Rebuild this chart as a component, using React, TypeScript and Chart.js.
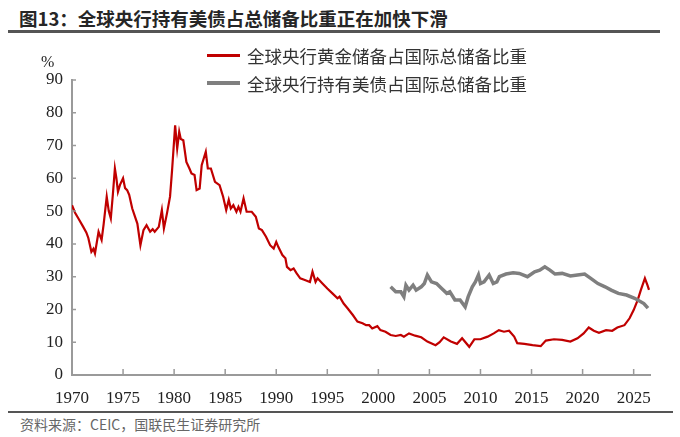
import React, { useEffect, useRef } from 'react';
import Chart from 'chart.js/auto';

// Share of world reserves, %
const goldYears = [
  1970.0, 1970.3, 1970.6, 1971.1, 1971.4, 1971.6, 1971.9, 1972.1, 1972.25, 1972.6, 1972.9,
  1973.1, 1973.4, 1973.6, 1973.8, 1974.0, 1974.2, 1974.35, 1974.5, 1974.7, 1975.0, 1975.2,
  1975.4, 1975.6, 1975.9, 1976.2, 1976.4, 1976.7, 1977.0, 1977.3, 1977.65, 1977.9, 1978.1,
  1978.5, 1978.8, 1979.0, 1979.3, 1979.6, 1979.8, 1980.1, 1980.3, 1980.5, 1980.65, 1980.9,
  1981.2, 1981.5, 1981.7, 1982.0, 1982.2, 1982.5, 1982.7, 1983.1, 1983.3, 1983.6, 1984.0,
  1984.45, 1984.8, 1985.1, 1985.35, 1985.55, 1985.8, 1986.1, 1986.3, 1986.5, 1986.8, 1987.1,
  1987.6, 1988.0, 1988.3, 1988.6, 1989.0, 1989.4, 1989.75, 1990.0, 1990.2, 1990.6, 1990.9,
  1991.05, 1991.4, 1991.7, 1992.0, 1992.35, 1992.8, 1993.3, 1993.55, 1993.85, 1994.05, 1994.5,
  1995.0, 1995.5, 1996.0, 1996.2, 1996.6, 1997.0, 1997.5, 1997.95, 1998.45, 1998.8, 1999.1,
  1999.4, 1999.9, 2000.2, 2000.7, 2001.2, 2001.7, 2002.2, 2002.5, 2003.0, 2003.6, 2004.2,
  2004.8, 2005.6, 2006.0, 2006.4, 2007.1, 2007.7, 2008.2, 2008.9, 2009.4, 2010.0, 2010.7,
  2011.3, 2011.8, 2012.3, 2012.8, 2013.3, 2013.6, 2014.3, 2015.1, 2015.9, 2016.4, 2017.2,
  2018.0, 2018.8, 2019.5, 2020.1, 2020.6, 2021.1, 2021.6, 2022.3, 2022.9, 2023.4, 2024.1,
  2024.6, 2025.0, 2025.4, 2025.7, 2026.1, 2026.35, 2026.5,
];
const goldShare = [
  51.8, 49.5, 47.9, 45.2, 43.5, 41.8, 37.6, 38.5, 37.1, 43.7, 41.2,
  46.0, 54.4, 50.0, 47.8, 55.0, 63.0, 60.0, 55.9, 58.0, 60.0, 57.0,
  56.4, 55.0, 50.8, 48.0, 46.2, 39.6, 44.2, 45.7, 43.7, 44.5, 43.7,
  45.2, 50.3, 44.7, 49.3, 54.4, 62.5, 76.2, 69.1, 74.2, 72.0, 71.6,
  65.0, 63.0, 61.5, 61.0, 56.4, 56.9, 64.0, 68.1, 63.0, 63.0, 58.9,
  57.9, 54.4, 50.3, 53.4, 50.8, 51.8, 49.8, 51.3, 49.8, 53.9, 49.8,
  49.8, 48.3, 44.7, 44.2, 42.2, 39.6, 38.6, 40.6, 39.1, 36.6, 35.6,
  33.0, 32.0, 32.5, 31.0, 29.5, 29.0, 28.4, 31.5, 28.4, 29.5, 28.0,
  26.4, 24.9, 23.4, 23.9, 21.8, 20.3, 18.3, 16.3, 15.8, 15.2, 15.2,
  14.2, 14.9, 13.7, 13.2, 12.2, 11.9, 12.2, 11.7, 12.7, 12.0, 11.5,
  10.2, 9.1, 10.0, 11.5, 10.2, 9.5, 11.2, 8.6, 10.9, 10.9, 11.7,
  12.7, 13.7, 13.2, 13.5, 11.7, 9.7, 9.5, 9.1, 8.8, 10.5, 10.9,
  10.7, 10.2, 11.2, 12.7, 14.5, 13.5, 12.9, 13.7, 13.5, 14.5, 15.2,
  17.3, 19.8, 22.9, 25.9, 29.5, 27.4, 26.0,
];

const ustYears = [
  2001.2, 2001.7, 2002.2, 2002.5, 2002.7, 2003.0, 2003.4, 2003.7, 2004.2, 2004.5, 2004.8,
  2005.2, 2005.7, 2006.2, 2006.7, 2007.0, 2007.5, 2008.0, 2008.5, 2008.8, 2009.2, 2009.5,
  2009.8, 2010.0, 2010.35, 2010.85, 2011.25, 2011.6, 2011.85, 2012.5, 2013.2, 2013.8, 2014.6,
  2015.3, 2015.8, 2016.3, 2016.8, 2017.3, 2018.0, 2018.8, 2019.5, 2020.2, 2020.8, 2021.5,
  2022.2, 2022.8, 2023.5, 2024.3, 2025.1, 2026.0, 2026.4,
];
const ustShare = [
  26.9, 25.4, 25.4, 23.9, 27.4, 25.9, 27.4, 25.9, 26.9, 27.9, 30.5,
  28.4, 27.9, 26.4, 24.9, 25.4, 22.9, 22.9, 20.8, 23.9, 26.9, 28.4,
  30.5, 27.9, 28.4, 30.5, 27.9, 28.4, 30.0, 30.8, 31.2, 31.0, 30.0,
  31.5, 32.0, 33.0, 32.0, 30.8, 31.0, 30.2, 30.5, 30.8, 29.5, 27.9,
  26.9, 25.9, 24.9, 24.4, 23.4, 21.8, 20.4,
];

const yTicks = [0, 10, 20, 30, 40, 50, 60, 70, 80, 90];

const goldLabel = '全球央行黄金储备占国际总储备比重';
const ustLabel = '全球央行持有美债占国际总储备比重';

const RED = '#C00000';
const GREY = '#7F7F7F';
const AXIS = '#9A9A9A';

const tickFont = { family: '"Liberation Serif", "Times New Roman", serif', size: 17 };

// short tick marks pointing into the plot
const innerTicks = {
  id: 'innerTicks',
  afterDraw(chart: any) {
    const { ctx, chartArea, scales } = chart;
    ctx.save();
    ctx.strokeStyle = AXIS;
    ctx.lineWidth = 1.5;
    ctx.beginPath();
    scales.x.ticks.forEach((t: any) => {
      const px = scales.x.getPixelForValue(t.value);
      ctx.moveTo(px, chartArea.bottom);
      ctx.lineTo(px, chartArea.bottom - 6);
    });
    scales.y.ticks.forEach((t: any) => {
      const py = scales.y.getPixelForValue(t.value);
      ctx.moveTo(chartArea.left, py);
      ctx.lineTo(chartArea.left + 4, py);
    });
    ctx.stroke();
    ctx.restore();
  },
};

const ReserveChart = () => {
  const canvasRef = useRef<HTMLCanvasElement | null>(null);

  useEffect(() => {
    if (!canvasRef.current) return;
    const chart = new Chart(canvasRef.current, {
      type: 'line',
      data: {
        datasets: [
          {
            label: ustLabel,
            data: ustYears.map((x, i) => ({ x, y: ustShare[i] })),
            borderColor: GREY,
            borderWidth: 3.5,
            pointRadius: 0,
            tension: 0,
          },
          {
            label: goldLabel,
            data: goldYears.map((x, i) => ({ x, y: goldShare[i] })),
            borderColor: RED,
            borderWidth: 2.2,
            pointRadius: 0,
            tension: 0,
          },
        ],
      },
      options: {
        animation: false,
        responsive: false,
        maintainAspectRatio: false,
        layout: { padding: { left: 0, right: 30, top: 44, bottom: 0 } },
        plugins: { legend: { display: false }, tooltip: { enabled: false } },
        scales: {
          x: {
            type: 'linear',
            min: 1970,
            max: 2026.6,
            grid: { drawOnChartArea: false, drawTicks: false },
            border: { display: true, color: AXIS, width: 2 },
            ticks: {
              stepSize: 5,
              includeBounds: false,
              padding: 13,
              color: '#222',
              font: tickFont,
              callback: (v: any) => String(v),
              maxRotation: 0,
              autoSkip: false,
            },
            afterFit: (s: any) => {
              s.height = 31;
            },
          },
          y: {
            min: 0,
            max: 90,
            afterBuildTicks: (s: any) => {
              s.ticks = yTicks.map((value) => ({ value }));
            },
            grid: { drawOnChartArea: false, drawTicks: false },
            border: { display: true, color: AXIS, width: 2 },
            ticks: { padding: 9, color: '#222', font: tickFont },
            afterFit: (s: any) => {
              s.width = 72;
            },
          },
        },
      },
      plugins: [innerTicks],
    });
    return () => chart.destroy();
  }, []);

  return (
    <canvas
      ref={canvasRef}
      width={680}
      height={370}
      style={{ position: 'absolute', left: 0, top: 36, width: 680, height: 370 }}
    />
  );
};

const cjk = '"Noto Sans CJK SC", "Noto Sans", sans-serif';

const LegendRow = ({ color, width, text, top }: { color: string; width: number; text: string; top: number }) => (
  <div style={{ position: 'absolute', left: 207, top: top - 12, height: 24, display: 'flex', alignItems: 'center' }}>
    <div style={{ width: 33, height: width, background: color, marginRight: 7 }} />
    <span style={{ fontFamily: cjk, fontSize: 17.5, color: '#333', whiteSpace: 'nowrap' }}>{text}</span>
  </div>
);

export default function App() {
  return (
    <div style={{ position: 'absolute', left: 0, top: 0, width: 680, height: 437, background: '#fff', overflow: 'hidden' }}>
      <div
        style={{
          position: 'absolute', left: 19, top: 5, fontFamily: cjk, fontWeight: 700,
          fontSize: 18.5, color: '#262626', whiteSpace: 'nowrap', lineHeight: '26px',
        }}
      >
        图13：全球央行持有美债占总储备比重正在加快下滑
      </div>
      <div style={{ position: 'absolute', left: 8, top: 30, width: 652, height: 2.5, background: '#555' }} />
      <ReserveChart />
      <div style={{ position: 'absolute', left: 41, top: 52, fontFamily: tickFont.family, fontSize: 16, color: '#222', lineHeight: '20px' }}>
        %
      </div>
      <LegendRow color={RED} width={3} text={goldLabel} top={55} />
      <LegendRow color={GREY} width={4} text={ustLabel} top={83} />
      <div style={{ position: 'absolute', left: 8, top: 411, width: 665, height: 2, background: '#555' }} />
      <div
        style={{
          position: 'absolute', left: 20, top: 414, fontFamily: cjk, fontSize: 14,
          color: '#666', whiteSpace: 'nowrap', lineHeight: '20px',
        }}
      >
        资料来源：CEIC，国联民生证券研究所
      </div>
    </div>
  );
}
